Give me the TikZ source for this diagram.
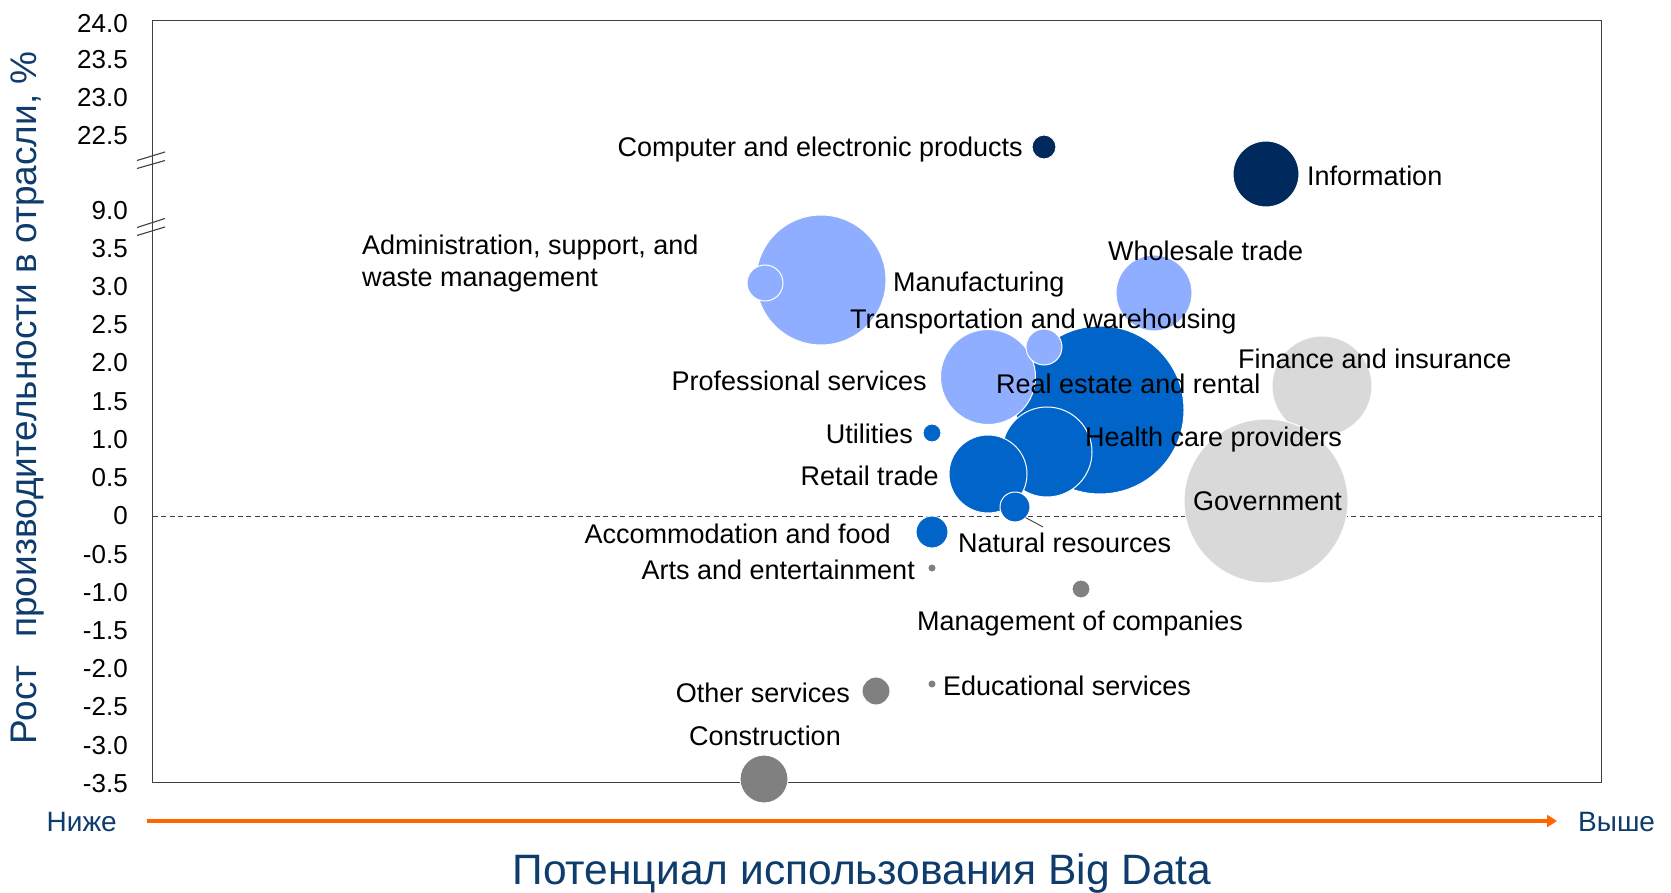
\documentclass[tikz,border=0pt]{standalone}
\usepackage{fontspec}
\setmainfont{Liberation Sans}
\usetikzlibrary{arrows.meta}
\definecolor{navy}{RGB}{0,42,94}
\definecolor{midblue}{RGB}{0,100,200}
\definecolor{lightblue}{RGB}{143,174,255}
\definecolor{lightgrey}{RGB}{217,217,217}
\definecolor{midgrey}{RGB}{128,128,128}
\definecolor{titleblue}{RGB}{14,60,108}
\definecolor{arroworange}{RGB}{255,102,0}
\definecolor{framegrey}{RGB}{64,64,64}
\begin{document}
\begin{tikzpicture}[x=1pt,y=-1pt,
  bub/.style={circle,inner sep=0pt,outer sep=0pt,draw=white,line width=1pt},
  lbl/.style={font=\fontsize{27}{32}\selectfont,inner sep=0pt,text=black},
  ticklbl/.style={font=\fontsize{26}{30}\selectfont,inner sep=0pt,anchor=base east},
  brk/.style={draw=framegrey,line width=1.1pt},
  axtitle/.style={text=titleblue,inner sep=0pt}]
\useasboundingbox[fill=white] (0,0) rectangle (1671,893);
% frame
\draw[framegrey,line width=1.2pt] (152.7,20.7) rectangle (1601.7,782.3);
% axis breaks
\draw[brk] (137,160.5) -- (165,152);
\draw[brk] (137,168.5) -- (165,160.5);
\draw[brk] (137,227.5) -- (165,218.5);
\draw[brk] (137,235.5) -- (165,227);
% tick labels
\foreach \v/\y in {24.0/23.3,23.5/59.5,23.0/97,22.5/135,9.0/210,3.5/248,3.0/286.2,2.5/324.4,2.0/362.6,1.5/400.9,1.0/439.1,0.5/477.3,0/515.5,-0.5/553.7,-1.0/591.9,-1.5/630.1,-2.0/668.3,-2.5/706.6,-3.0/744.8,-3.5/783}
  \node[ticklbl] at (128,\y+9.3) {\v};
% zero line
\coordinate (z0) at (152.7,516);
\coordinate (z1) at (1601.7,516);
\draw[framegrey,line width=0.9pt,dash pattern=on 5pt off 3.5pt] (z0) -- (z1);
% bubbles
\node[bub,fill=lightblue,minimum size=130pt] (manu) at (821,280) {};
\node[bub,fill=lightblue,minimum size=36pt] (admin) at (765,283) {};
\node[bub,fill=navy,minimum size=24pt] (comp) at (1044,147) {};
\node[bub,fill=navy,minimum size=66pt] (info) at (1266,174) {};
\node[bub,fill=lightblue,minimum size=76pt] (whole) at (1154,293) {};
\node[bub,fill=midblue,minimum size=168pt] (real) at (1100,410) {};
\node[bub,fill=lightblue,minimum size=95pt] (prof) at (988,377) {};
\node[bub,fill=lightblue,minimum size=36pt] (trans) at (1044,347) {};
\node[bub,fill=lightgrey,minimum size=100pt] (fin) at (1322,386) {};
\node[bub,fill=lightgrey,minimum size=164pt] (gov) at (1266,501) {};
\node[bub,fill=midblue,minimum size=90pt] (health) at (1047,452) {};
\node[bub,fill=midblue,minimum size=78pt] (retail) at (988,474) {};
\node[bub,fill=midblue,minimum size=30pt] (nat) at (1015,507) {};
\node[bub,fill=midblue,minimum size=18pt] (util) at (932,433) {};
\node[bub,fill=midblue,minimum size=32pt] (accom) at (932,532) {};
\node[bub,fill=midgrey,minimum size=7pt,draw=none] (arts) at (932,568) {};
\node[bub,fill=midgrey,minimum size=18pt] (mgmt) at (1081,589) {};
\node[bub,fill=midgrey,minimum size=7pt,draw=none] (edu) at (932,684) {};
\node[bub,fill=midgrey,minimum size=28pt] (other) at (876,691) {};
\node[bub,fill=midgrey,minimum size=48pt] (constr) at (764,779) {};
% leader for natural resources
\coordinate (natend) at (1043,527);
\draw[framegrey,line width=0.9pt] (nat.-45) -- (natend);
% labels
\node[lbl,anchor=base east] (lcomp) at (1023,157) {Computer and electronic products};
\node[lbl,anchor=base west] (linfo) at (1307,186) {Information};
\node[lbl,anchor=north west,align=left] (ladmin) at (362,234.5) {Administration, support, and\\waste management};
\node[lbl,anchor=base west] (lmanu) at (893,291.5) {Manufacturing};
\node[lbl,anchor=base west] (lwhole) at (1108,261) {Wholesale trade};
\node[lbl,anchor=base west] (ltrans) at (850,328.5) {Transportation and warehousing};
\node[lbl,anchor=base east] (lprof) at (927,390) {Professional services};
\node[lbl,anchor=base west] (lreal) at (996,393) {Real estate and rental};
\node[lbl,anchor=base west] (lfin) at (1238,368) {Finance and insurance};
\node[lbl,anchor=base east] (lutil) at (913,443) {Utilities};
\node[lbl,anchor=base west] (lhealth) at (1085,446) {Health care providers};
\node[lbl,anchor=base east] (lretail) at (939,485) {Retail trade};
\node[lbl,anchor=base] (lgov) at (1267.5,510) {Government};
\node[lbl,anchor=base east] (laccom) at (891,543) {Accommodation and food};
\node[lbl,anchor=base west] (lnat) at (958,552) {Natural resources};
\node[lbl,anchor=base east] (larts) at (915,579) {Arts and entertainment};
\node[lbl,anchor=base west] (lmgmt) at (917,630) {Management of companies};
\node[lbl,anchor=base west] (ledu) at (943,695) {Educational services};
\node[lbl,anchor=base east] (lother) at (850,702) {Other services};
\node[lbl,anchor=base] (lconstr) at (765,745) {Construction};
% axis titles
\node[axtitle,rotate=90,font=\fontsize{37}{41}\selectfont] (ytitle) at (28,398) {Рост\hspace{0.75em}производительности в отрасли, \%};
\node[axtitle,anchor=base east,font=\fontsize{28}{32}\selectfont] (low) at (117,831.5) {Ниже};
\node[axtitle,anchor=base west,font=\fontsize{28}{32}\selectfont] (high) at (1578,831.5) {Выше};
\node[axtitle,font=\fontsize{42.5}{46}\selectfont] (xtitle) at (862,874) {Потенциал использования Big Data};
\coordinate (arrS) at (146.7,821);
\coordinate (arrE) at (1557,821);
\draw[arroworange,line width=3.3pt,-{Triangle[length=10pt,width=12pt]}] (arrS) -- (arrE);
\end{tikzpicture}
\end{document}
